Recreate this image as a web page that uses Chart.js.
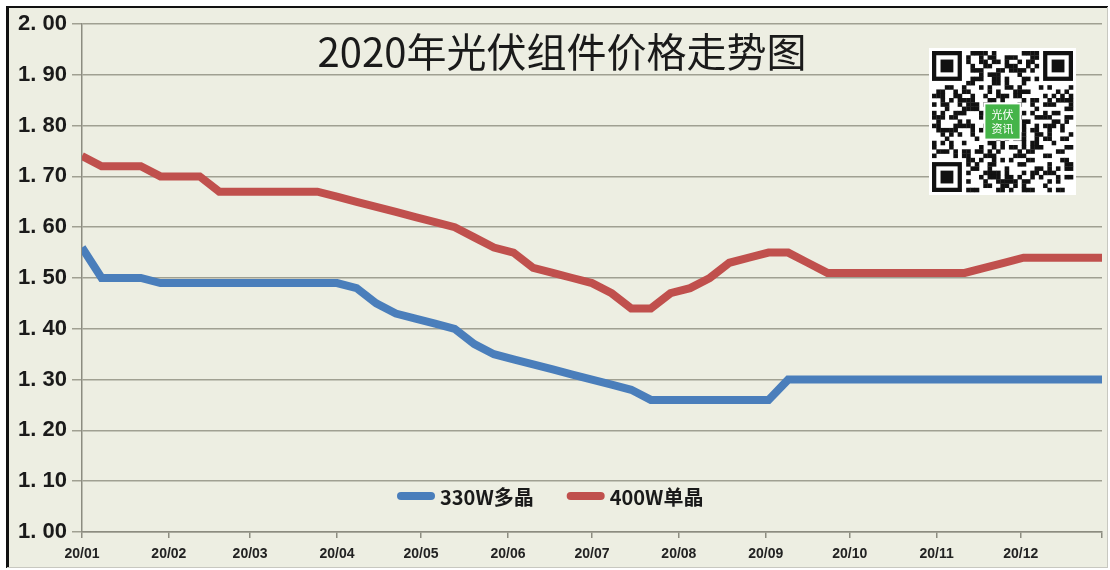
<!DOCTYPE html>
<html lang="zh-CN">
<head>
  <meta charset="UTF-8">
  <title>2020年光伏组件价格走势图</title>
  <style>
    html, body { margin: 0; padding: 0; background: #fff; }
    #wrap { width: 1110px; height: 570px; }
  </style>
</head>
<body>
  <div id="wrap"><canvas id="priceChart" width="1110" height="570"></canvas></div>
  <script src="https://cdn.jsdelivr.net/npm/chart.js"></script>
  <script>
    // weekly prices, first week of 2020 to last week
    const poly330 = [1.56, 1.50, 1.50, 1.50, 1.49, 1.49, 1.49, 1.49, 1.49, 1.49,
      1.49, 1.49, 1.49, 1.49, 1.48, 1.45, 1.43, 1.42, 1.41, 1.40,
      1.37, 1.35, 1.34, 1.33, 1.32, 1.31, 1.30, 1.29, 1.28, 1.26,
      1.26, 1.26, 1.26, 1.26, 1.26, 1.26, 1.30, 1.30, 1.30, 1.30,
      1.30, 1.30, 1.30, 1.30, 1.30, 1.30, 1.30, 1.30, 1.30, 1.30,
      1.30, 1.30, 1.30];
    const mono400 = [1.74, 1.72, 1.72, 1.72, 1.70, 1.70, 1.70, 1.67, 1.67, 1.67,
      1.67, 1.67, 1.67, 1.66, 1.65, 1.64, 1.63, 1.62, 1.61, 1.60,
      1.58, 1.56, 1.55, 1.52, 1.51, 1.50, 1.49, 1.47, 1.44, 1.44,
      1.47, 1.48, 1.50, 1.53, 1.54, 1.55, 1.55, 1.53, 1.51, 1.51,
      1.51, 1.51, 1.51, 1.51, 1.51, 1.51, 1.52, 1.53, 1.54, 1.54,
      1.54, 1.54, 1.54];
    const monthLabels = ['20/01', '20/02', '20/03', '20/04', '20/05', '20/06',
      '20/07', '20/08', '20/09', '20/10', '20/11', '20/12', ''];
    const monthDays = [0, 31, 60, 91, 121, 152, 182, 213, 244, 274, 305, 335, 364];
    const yTicks = [1.0, 1.1, 1.2, 1.3, 1.4, 1.5, 1.6, 1.7, 1.8, 1.9, 2.0];
    const seriesNames = ['330W多晶', '400W单晶'];
    const seriesColors = ['#4a7ebb', '#c0504d'];
    const titleText = '2020年光伏组件价格走势图';

    const weekDays = poly330.map((v, i) => i * 7);
    const toPoints = arr => arr.map((v, i) => ({ x: weekDays[i], y: v }));

    const frame = {
      id: 'frame',
      beforeDraw(chart) {
        const c = chart.ctx;
        c.save();
        c.fillStyle = '#ffffff';
        c.fillRect(0, 0, chart.width, chart.height);
        c.fillStyle = '#edeee2';
        c.fillRect(7, 7, 1101, 561);
        c.fillStyle = '#111';
        c.fillRect(6, 6, 3, 562);
        c.fillRect(6, 6, 1102, 2);
        c.fillStyle = '#c8c8c0';
        c.fillRect(1107, 7, 1, 561);
        c.fillRect(7, 567, 1101, 1);
        c.restore();
      }
    };

    function drawQR(c, x, y, size) {
      const n = 33, m = size / n;
      c.fillStyle = '#fff';
      c.fillRect(x - 3, y - 3, size + 6, size + 6);
      c.fillStyle = '#111';
      const finder = (i, j) => (i < 8 && j < 8) || (i < 8 && j >= n - 8) || (i >= n - 8 && j < 8);
      for (let i = 0; i < n; i++) {
        for (let j = 0; j < n; j++) {
          if (finder(i, j)) continue;
          if (((i * 13 + j * 7) ^ (i * j + 3)) % 3 === 0 || (i + j * 5) % 7 === 0) {
            c.fillRect(x + j * m, y + i * m, m + 0.3, m + 0.3);
          }
        }
      }
      [[0, 0], [0, n - 7], [n - 7, 0]].forEach(([i, j]) => {
        const px = x + j * m, py = y + i * m;
        c.fillStyle = '#111'; c.fillRect(px, py, 7 * m, 7 * m);
        c.fillStyle = '#fff'; c.fillRect(px + m, py + m, 5 * m, 5 * m);
        c.fillStyle = '#111'; c.fillRect(px + 2 * m, py + 2 * m, 3 * m, 3 * m);
      });
      const g = 8 * m, gx = x + size / 2 - g / 2, gy = y + size / 2 - g / 2;
      c.fillStyle = '#fff';
      c.fillRect(gx - 2, gy - 2, g + 4, g + 4);
      c.fillStyle = '#45b449';
      c.fillRect(gx, gy, g, g);
      c.fillStyle = '#fff';
      c.font = '11px "Noto Sans CJK SC"';
      c.textAlign = 'center';
      c.textBaseline = 'middle';
      c.fillText('光伏', gx + g / 2, gy + g * 0.3);
      c.fillText('资讯', gx + g / 2, gy + g * 0.72);
    }

    const overlay = {
      id: 'overlay',
      afterDatasetsDraw(chart) {
        const c = chart.ctx;
        c.save();
        // title sits inside the plot
        c.fillStyle = '#1a1a1a';
        c.font = '40px "Noto Sans CJK SC"';
        c.textAlign = 'center';
        c.textBaseline = 'middle';
        c.fillText(titleText, 562, 52);

        // legend inside the plot, near the bottom
        c.font = 'bold 20px "Noto Sans CJK SC"';
        c.textAlign = 'left';
        let lx = 398;
        const ly = 496;
        seriesNames.forEach((name, k) => {
          c.strokeStyle = seriesColors[k];
          c.lineWidth = 8;
          c.lineCap = 'round';
          c.beginPath();
          c.moveTo(lx + 3, ly);
          c.lineTo(lx + 33, ly);
          c.stroke();
          c.fillStyle = '#1a1a1a';
          c.fillText(name, lx + 42, ly + 1);
          lx += 42 + c.measureText(name).width + 34;
        });

        drawQR(c, 932, 51, 141);
        c.restore();
      }
    };

    Chart.defaults.font.family = '"Liberation Sans", Arial, sans-serif';

    new Chart(document.getElementById('priceChart'), {
      type: 'line',
      data: {
        datasets: [
          {
            label: seriesNames[0],
            data: toPoints(poly330),
            borderColor: seriesColors[0],
            borderWidth: 8,
            pointRadius: 0,
            tension: 0,
            fill: false
          },
          {
            label: seriesNames[1],
            data: toPoints(mono400),
            borderColor: seriesColors[1],
            borderWidth: 8,
            pointRadius: 0,
            tension: 0,
            fill: false
          }
        ]
      },
      options: {
        responsive: false,
        animation: false,
        layout: { padding: { left: 0, top: 24, right: 7, bottom: 0 } },
        plugins: {
          legend: { display: false },
          title: { display: false },
          tooltip: { enabled: false }
        },
        scales: {
          x: {
            type: 'linear',
            min: 0,
            max: 364,
            afterBuildTicks: s => { s.ticks = monthDays.map(v => ({ value: v })); },
            afterFit: s => { s.height = 38; },
            grid: { drawOnChartArea: false, drawTicks: true, tickLength: 6, color: '#8c8c80', lineWidth: 1.5 },
            border: { color: '#8c8c80', width: 1.5 },
            ticks: {
              autoSkip: false,
              maxRotation: 0,
              padding: 8,
              color: '#222',
              font: { size: 14, weight: 'bold' },
              callback: (v, i) => monthLabels[i]
            }
          },
          y: {
            min: 1,
            max: 2,
            afterBuildTicks: s => { s.ticks = yTicks.map(v => ({ value: v })); },
            afterFit: s => { s.width = 82; },
            grid: { color: '#a0a092', lineWidth: 1.5, tickLength: 10 },
            border: { color: '#8c8c80', width: 1.5 },
            ticks: {
              padding: 5,
              color: '#1a1a1a',
              font: { size: 22, weight: 'bold' },
              callback: v => v.toFixed(2).replace('.', '. ')
            }
          }
        }
      },
      plugins: [frame, overlay]
    });
  </script>
</body>
</html>
